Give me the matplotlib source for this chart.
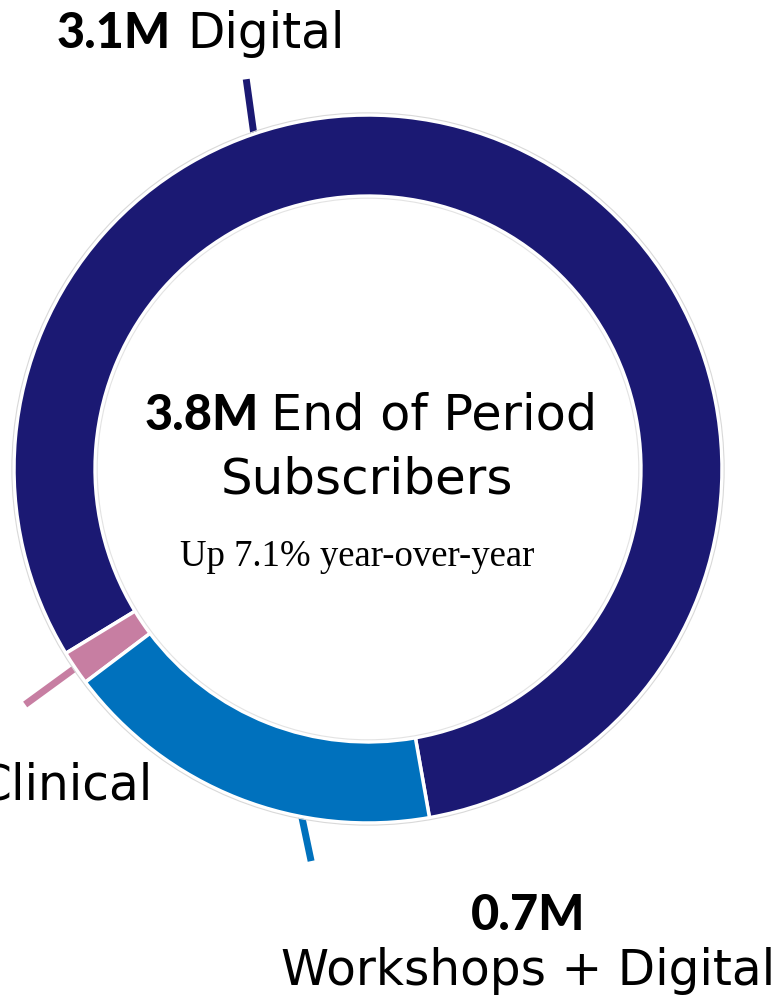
import numpy as np
import matplotlib
matplotlib.use('Agg')
import matplotlib.pyplot as plt
from matplotlib.patches import Circle

# subscriber mix, millions
segments = ['Digital', 'Clinical', 'Workshops + Digital']
values = [3.1, 0.06, 0.67]
value_labels = ['3.1M', '', '0.7M']
colors = ['#1b1973', '#c77ea2', '#0071bd']

total_label = '3.8M'
center_title = 'End of Period'
center_line2 = 'Subscribers'
center_sub = 'Up 7.1% year-over-year'

W, H = 784, 1003
CX, CY, R = 368, 470, 354  # donut centre / radius in pixels


def px(x, y):
    # pixel position -> data units (radius = 1)
    return (x - CX) / R, (CY - y) / R


fig = plt.figure(figsize=(W / 100, H / 100), dpi=100)
ax = fig.add_axes([0, 0, 1, 1])

wedges, _ = ax.pie(values, colors=colors, startangle=280, counterclock=True,
                   radius=1, wedgeprops=dict(width=0.229, edgecolor='white', linewidth=2.5))
for w in wedges:
    w.set_zorder(2)
ax.add_patch(Circle((0, 0), 1.006, fill=False, edgecolor='#d9d9d9', lw=0.8, zorder=3))
ax.add_patch(Circle((0, 0), 0.765, fill=False, edgecolor='#e3e3e3', lw=0.8, zorder=3))

# leader lines: (fraction along wedge, direction deg, length)
leaders = [(0.648, 97.9, 0.156), (0.5, 216.1, 0.175), (0.67, 281.9, 0.128)]
for w, c, (f, d, L) in zip(wedges, colors, leaders):
    a = np.deg2rad(w.theta1 + f * (w.theta2 - w.theta1))
    d = np.deg2rad(d)
    x0, y0 = np.cos(a), np.sin(a)
    ax.plot([x0 - 0.06 * np.cos(d), x0 + L * np.cos(d)],
            [y0 - 0.06 * np.sin(d), y0 + L * np.sin(d)],
            color=c, lw=5, solid_capstyle='butt', zorder=1)

sans = 'DejaVu Sans'
bold = dict(family='Lato', weight='black', color='black')
reg = dict(family=sans, color='black')

# Digital label
ax.text(*px(171, 48), value_labels[0], ha='right', va='baseline', fontsize=35, **bold)
ax.text(*px(187, 48), segments[0], ha='left', va='baseline', fontsize=35, **reg)

# Clinical label (runs off the left edge, as in the source)
ax.text(*px(152, 800), segments[1], ha='right', va='baseline', fontsize=35, **reg)

# Workshops label
ax.text(*px(528, 930), value_labels[2], ha='center', va='baseline', fontsize=35, **bold)
ax.text(*px(528, 985), segments[2], ha='center', va='baseline', fontsize=35, **reg)

# centre text
ax.text(*px(259, 430), total_label, ha='right', va='baseline', fontsize=35, **bold)
ax.text(*px(271, 430), center_title, ha='left', va='baseline', fontsize=35.5, **reg)
ax.text(*px(367, 493), center_line2, ha='center', va='baseline', fontsize=36, **reg)
ax.text(*px(357, 566), center_sub, ha='center', va='baseline', fontsize=26.5,
        family='Liberation Serif', color='black')

x0, y0 = px(0, H)
x1, y1 = px(W, 0)
ax.set_xlim(x0, x1)
ax.set_ylim(y0, y1)
ax.set_aspect('equal')
ax.axis('off')

fig.savefig('out.png', dpi=100)
